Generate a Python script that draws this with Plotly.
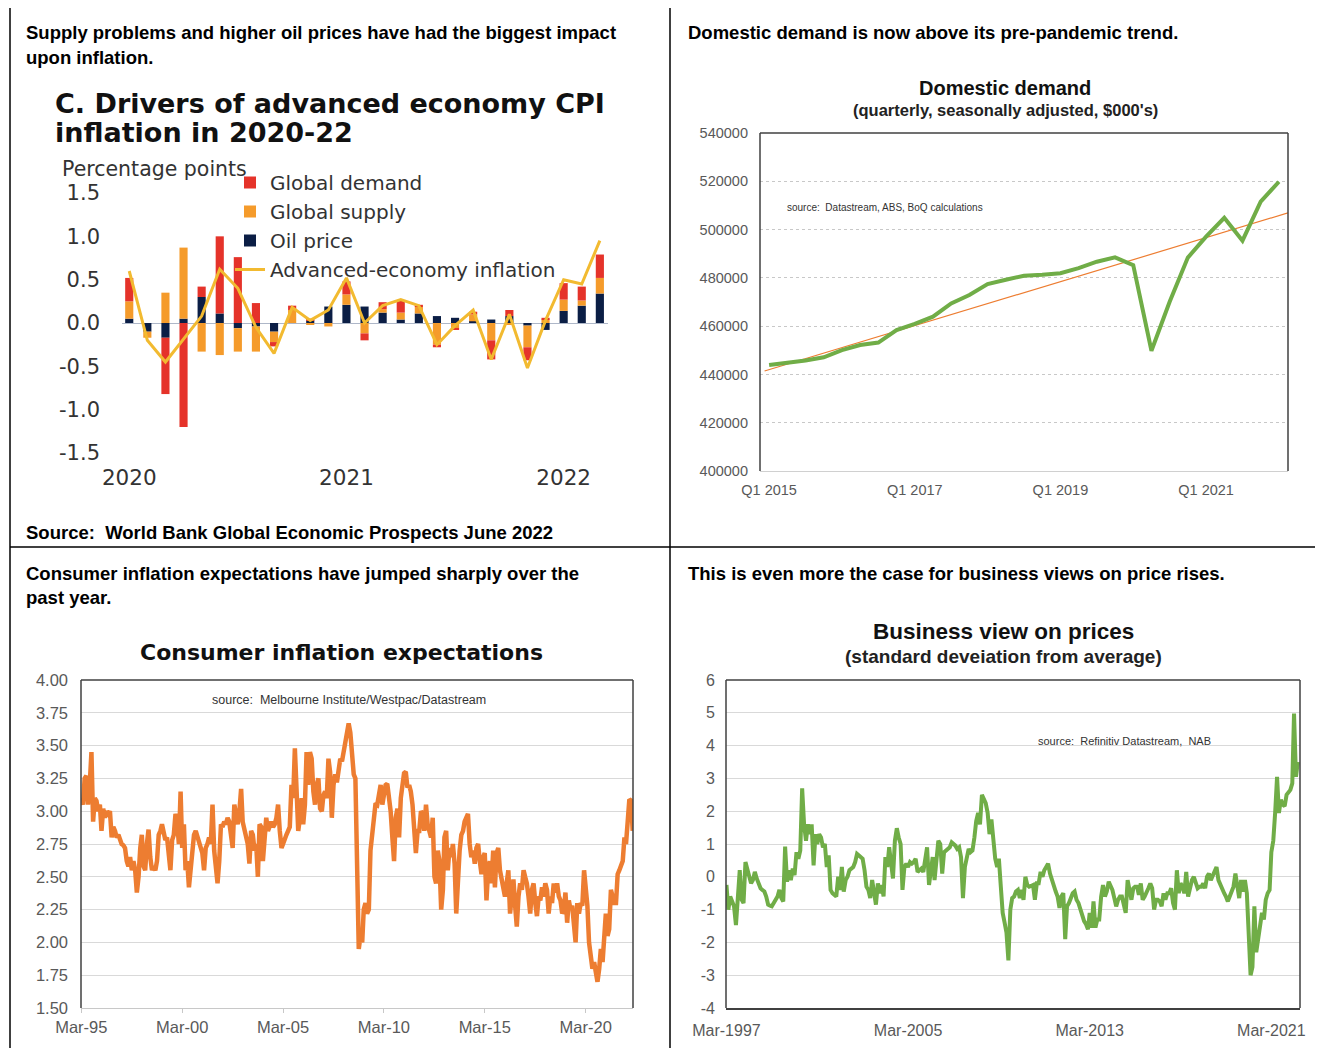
import plotly.graph_objects as go
import pandas as pd

W, H = 1323, 1048
OFF = 8  # page body margin offset


def px(x):
    return (x - OFF) / W


def py(y):
    return 1 - (y - OFF) / H


# ---------------- Panel 1: drivers of advanced economy CPI inflation ----------------
p1_months = pd.date_range("2020-01-01", "2022-03-01", freq="MS")
p1_oil = [0.05, -0.10, -0.17, 0.05, 0.30, 0.11, -0.06, -0.04, -0.10, 0.00, 0.03, 0.19,
          0.21, 0.19, 0.12, 0.04, 0.11, 0.08, 0.06, 0.02, 0.04, 0.08, -0.03, -0.08,
          0.14, 0.20, 0.34]
p1_supply = [0.20, -0.07, 0.35, 0.82, -0.33, -0.37, -0.27, -0.29, -0.12, 0.15, -0.02, -0.04,
             0.12, -0.12, 0.04, 0.08, 0.08, -0.25, -0.06, 0.08, -0.20, -0.02, -0.25, 0.04,
             0.13, 0.06, 0.18]
p1_demand = [0.27, 0.00, -0.65, -1.20, 0.12, 0.89, 0.76, 0.23, -0.05, 0.05, 0.02, 0.00,
             0.15, -0.08, 0.08, 0.14, 0.02, -0.03, -0.02, 0.03, -0.22, 0.07, -0.15, 0.02,
             0.19, 0.16, 0.27]
p1_inflation = [0.60, -0.20, -0.45, -0.18, 0.08, 0.62, 0.40, -0.05, -0.35, 0.18, 0.03, 0.15,
                0.52, 0.00, 0.20, 0.27, 0.20, -0.25, -0.03, 0.15, -0.42, 0.10, -0.52, 0.03,
                0.50, 0.45, 0.95]
p1_year_ticks = ["2020", "2021", "2022"]
p1_ytick_vals = [-1.5, -1.0, -0.5, 0.0, 0.5, 1.0, 1.5]
p1_ytick_text = ["-1.5", "-1.0", "-0.5", "0.0", "0.5", "1.0", "1.5"]

# ---------------- Panel 2: domestic demand ----------------
p2_quarters = [f"Q{q} {y}" for y in range(2015, 2023) for q in range(1, 5)][:29]
p2_demand = [443900, 444700, 445800, 447100, 450100, 452200, 453200, 458400, 460900,
             463900, 469400, 472900, 477400, 479200, 480900, 481300, 481900, 484000,
             486700, 488500, 485300, 449800, 470100, 488400, 497100, 504900, 495400,
             511600, 519800]
p2_trend_x = [-0.25, 28.5]
p2_trend_y = [441400, 506900]
p2_tick_quarters = ["Q1 2015", "Q1 2017", "Q1 2019", "Q1 2021"]

# ---------------- Panel 3: consumer inflation expectations ----------------
p3_values = [
    3.10, 3.05, 3.25, 3.27, 3.05, 3.20, 3.45, 2.92, 3.10, 3.08, 3.00, 3.05,
    2.85, 3.02, 2.95, 3.00, 2.98, 3.00, 2.80, 2.88, 2.85, 2.80, 2.82, 2.78,
    2.75, 2.74, 2.72, 2.62, 2.58, 2.65, 2.55, 2.62, 2.55, 2.38, 2.50, 2.72,
    2.82, 2.58, 2.55, 2.75, 2.86, 2.65, 2.55, 2.58, 2.55, 2.62, 2.82, 2.85,
    2.90, 2.84, 2.78, 2.80, 2.62, 2.55, 2.78, 2.82, 2.98, 2.92, 2.75, 3.15,
    2.72, 2.90, 2.55, 2.62, 2.42, 2.55, 2.75, 2.82, 2.85, 2.80, 2.78, 2.70,
    2.68, 2.55, 2.72, 2.75, 2.80, 2.75, 3.05, 2.70, 2.58, 2.45, 2.62, 2.90,
    2.88, 2.92, 2.90, 2.95, 2.92, 2.80, 2.72, 3.05, 2.95, 2.90, 3.00, 3.17,
    2.92, 2.85, 2.80, 2.75, 2.60, 2.85, 2.82, 2.70, 2.75, 2.50, 2.90, 2.88,
    2.62, 2.85, 2.95, 2.85, 2.90, 2.92, 2.88, 2.90, 2.95, 3.05, 2.85, 2.72,
    2.75, 2.80, 2.82, 2.85, 2.88, 3.20, 3.10, 3.48, 3.15, 2.85, 2.95, 3.10,
    2.90, 3.05, 3.45, 3.20, 3.45, 3.40, 3.15, 3.05, 3.20, 3.25, 3.02, 3.00,
    3.12, 3.15, 3.10, 3.40, 3.30, 2.95, 3.20, 3.28, 3.22, 3.30, 3.40, 3.38,
    3.45, 3.55, 3.62, 3.67, 3.60, 3.45, 3.28, 3.25, 2.60, 1.95, 2.05, 2.00,
    2.25, 2.30, 2.22, 2.25, 2.70, 2.80, 2.95, 3.06, 3.05, 3.15, 3.20, 3.05,
    3.12, 3.20, 3.21, 3.10, 3.00, 2.80, 2.62, 2.95, 3.02, 2.80, 3.10, 3.20,
    3.29, 3.30, 3.18, 3.20, 3.15, 3.05, 2.80, 2.68, 2.85, 2.85, 3.00, 2.98,
    2.85, 3.05, 2.90, 2.85, 2.80, 2.95, 2.50, 2.45, 2.70, 2.62, 2.25, 2.40,
    2.80, 2.85, 2.55, 2.72, 2.65, 2.75, 2.60, 2.22, 2.55, 2.70, 2.82, 2.85,
    2.92, 2.95, 2.98, 2.75, 2.65, 2.70, 2.60, 2.72, 2.75, 2.62, 2.52, 2.65,
    2.68, 2.32, 2.55, 2.62, 2.45, 2.70, 2.42, 2.68, 2.72, 2.55, 2.48, 2.42,
    2.35, 2.45, 2.55, 2.22, 2.40, 2.48, 2.28, 2.12, 2.35, 2.45, 2.40, 2.55,
    2.50, 2.45, 2.35, 2.22, 2.40, 2.45, 2.30, 2.20, 2.35, 2.32, 2.42, 2.35,
    2.45, 2.40, 2.22, 2.35, 2.30, 2.45, 2.38, 2.45, 2.35, 2.32, 2.22, 2.25,
    2.38, 2.15, 2.32, 2.25, 2.28, 2.10, 2.00, 2.30, 2.22, 2.30, 2.28, 2.55,
    2.45, 2.28, 2.00, 1.92, 1.80, 1.85, 1.75, 1.70, 1.80, 1.95, 1.85, 2.00,
    2.22, 2.05, 2.10, 2.40, 2.35, 2.30, 2.30, 2.52, 2.55, 2.60, 2.62, 2.80,
    2.75, 2.92, 3.09, 3.08, 2.85,
]
p3_dates = pd.date_range("1995-03-01", periods=len(p3_values), freq="MS")
p3_tick_dates = ["1995-03-01", "2000-03-01", "2005-03-01", "2010-03-01", "2015-03-01", "2020-03-01"]

# ---------------- Panel 4: business view on prices ----------------
p4_values = [
    -0.25, -1.0, -0.6, -0.75, -0.9, -1.47, -0.7, 0.2, -0.7, -0.8, 0.45, 0.2,
    0.1, -0.2, -0.1, 0.15, -0.05, -0.2, -0.35, -0.4, -0.45, -0.6, -0.85, -0.88,
    -0.9, -0.8, -0.7, -0.6, -0.4, -0.65, -0.75, 0.92, -0.15, 0.2, -0.1, 0.25,
    0.05, 0.75, 0.55, 0.8, 2.7, 1.6, 1.1, 1.6, 1.3, 1.6, 0.35, 1.3,
    1.0, 1.3, 1.2, 0.9, 1.0, 0.3, 0.65, -0.4, -0.5, -0.55, -0.6, 0.0,
    -0.4, 0.3, -0.45, -0.1, 0.0, 0.2, 0.25, 0.3, 0.45, 0.7, 0.65, 0.6,
    0.55, 0.2, -0.3, -0.4, -0.65, -0.1, -0.5, -0.85, -0.2, -0.5, -0.25, -0.6,
    0.6, 0.3, 0.9, 0.5, -0.05, 1.1, 1.48, 1.2, 1.0, -0.4, 0.3, 0.4,
    0.3, 0.45, 0.4, 0.45, 0.55, 0.15, 0.2, 0.25, 0.15, 0.5, 0.9, -0.25,
    0.3, 0.6, -0.1, 0.6, 1.1, 1.0, 0.1, 0.75, 0.8, 0.85, 0.9, 1.05,
    1.0, 0.95, 0.85, 0.9, 0.6, -0.65, 0.3, 0.55, 0.85, 0.75, 0.8, 1.2,
    1.7, 1.95, 1.6, 2.5, 2.4, 2.25, 1.95, 1.3, 1.75, 1.2, 0.55, 0.3,
    0.55, -0.3, -1.1, -1.4, -1.7, -2.55, -1.0, -0.65, -0.6, -0.45, -0.4, -0.65,
    -0.4, -0.7, 0.0, -0.25, -0.3, -0.28, -0.25, -0.7, -0.2, -0.2, 0.15, 0.0,
    0.2, 0.3, 0.4, 0.1, -0.1, -0.25, -0.45, -0.6, -0.95, -0.6, -0.5, -1.9,
    -0.9, -0.8, -0.6, -0.5, -0.45, -0.7, -0.8, -1.0, -1.1, -1.35, -1.45, -1.6,
    -1.1, -1.55, -0.75, -1.55, -1.3, -1.3, -0.6, -0.25, -0.6, -0.45, -0.15, -0.3,
    -0.4, -0.65, -0.9, -0.7, -0.6, -0.6, -0.8, -1.1, -0.1, -0.5, -0.7, -0.35,
    -0.3, -0.3, -0.55, -0.2, -0.7, -0.6, -0.5, -0.35, -0.2, -0.35, -1.0, -0.7,
    -0.7, -0.75, -0.9, -0.5, -0.7, -0.5, -0.5, -0.35, -0.8, -1.0, 0.2, -0.5,
    -0.2, -0.3, -0.5, 0.15, -0.6, -0.3, -0.1, 0.0, -0.2, -0.35, -0.3, -0.3,
    -0.2, -0.35, 0.0, 0.1, -0.1, 0.05, 0.2, 0.3, -0.1, -0.25, -0.4, -0.5,
    -0.6, -0.75, -0.6, -0.45, -0.3, 0.1, -0.4, -0.65, -0.1, -0.45, -0.1, -0.5,
    -1.7, -3.0, -2.75, -0.9, -2.3, -1.95, -1.5, -1.1, -1.3, -0.7, -0.5, -0.4,
    0.75, 1.1, 1.95, 3.05, 1.95, 2.35, 2.2, 2.15, 2.5, 2.6, 2.65, 2.85,
    4.98, 3.05, 3.5,
]
p4_dates = pd.date_range("1997-03-01", periods=len(p4_values), freq="MS")
p4_tick_dates = ["1997-03-01", "2005-03-01", "2013-03-01", "2021-03-01"]
p4_ytick_vals = [-4, -3, -2, -1, 0, 1, 2, 3, 4, 5, 6]
p4_ytick_text = ["-4", "-3", "-2", "-1", "0", "1", "2", "3", "4", "5", "6"]

# ---------------- Styles ----------------
ARIAL = "Liberation Sans, Arial, sans-serif"
WIDE = "DejaVu Sans, Verdana, sans-serif"
TICK_GREY = "#595959"

fig = go.Figure()

p1_x = list(range(len(p1_months)))
fig.add_trace(go.Bar(x=p1_x, y=p1_oil, name="Oil price", marker_color="#0B1E45",
                     marker_line_width=0, legendrank=3, xaxis="x", yaxis="y"))
fig.add_trace(go.Bar(x=p1_x, y=p1_supply, name="Global supply", marker_color="#F59B2B",
                     marker_line_width=0, legendrank=2, xaxis="x", yaxis="y"))
fig.add_trace(go.Bar(x=p1_x, y=p1_demand, name="Global demand", marker_color="#E5332A",
                     marker_line_width=0, legendrank=1, xaxis="x", yaxis="y"))
fig.add_trace(go.Scatter(x=p1_x, y=p1_inflation, name="Advanced-economy inflation",
                         mode="lines", line=dict(color="#F2BA30", width=3),
                         legendrank=4, xaxis="x", yaxis="y"))

p2_x = list(range(len(p2_demand)))
fig.add_trace(go.Scatter(x=p2_trend_x, y=p2_trend_y, mode="lines",
                         line=dict(color="#ED7D31", width=1.2), showlegend=False,
                         xaxis="x2", yaxis="y2"))
fig.add_trace(go.Scatter(x=p2_x, y=p2_demand, mode="lines",
                         line=dict(color="#70AD47", width=4), showlegend=False,
                         xaxis="x2", yaxis="y2"))

fig.add_trace(go.Scatter(x=p3_dates, y=p3_values, mode="lines",
                         line=dict(color="#ED7D31", width=4.5), showlegend=False,
                         xaxis="x3", yaxis="y3"))

fig.add_trace(go.Scatter(x=p4_dates, y=p4_values, mode="lines",
                         line=dict(color="#70AD47", width=4), showlegend=False,
                         xaxis="x4", yaxis="y4"))

# ---------------- Axes ----------------
layout = dict(
    width=W, height=H,
    margin=dict(l=0, r=0, t=0, b=0, pad=0, autoexpand=False),
    paper_bgcolor="white", plot_bgcolor="rgba(0,0,0,0)",
    barmode="relative", bargap=0.55,
    showlegend=True,
    legend=dict(x=px(230), y=py(163), xanchor="left", yanchor="top",
                bgcolor="rgba(0,0,0,0)", font=dict(family=WIDE, size=20, color="#333333"),
                itemwidth=30, tracegroupgap=0),
)

layout["xaxis"] = dict(domain=[px(122), px(608)], anchor="y", range=[-0.4, 26.45],
                       tickmode="array", tickvals=[0, 12, 24], ticktext=p1_year_ticks,
                       showgrid=False, zeroline=False, showline=False, ticks="",
                       ticklabelstandoff=9, automargin=False,
                       tickfont=dict(family=WIDE, size=21.5, color="#333333"))
layout["yaxis"] = dict(domain=[py(453), py(193)], anchor="x", range=[-1.5, 1.5],
                       tickmode="array", tickvals=p1_ytick_vals, ticktext=p1_ytick_text,
                       showgrid=False, zeroline=True, zerolinecolor="#AEB7C8", zerolinewidth=1.2,
                       showline=False, ticks="", ticklabelstandoff=21, automargin=False,
                       tickfont=dict(family=WIDE, size=21, color="#333333"))

layout["xaxis2"] = dict(domain=[px(760), px(1288)], anchor="y2", range=[-0.5, 28.5],
                        tickmode="array", tickvals=[p2_quarters.index(q) for q in p2_tick_quarters],
                        ticktext=p2_tick_quarters, showgrid=False, zeroline=False,
                        showline=True, linecolor="#D0D0D0", linewidth=1, ticks="",
                        ticklabelstandoff=6, automargin=False,
                        tickfont=dict(family=ARIAL, size=14.5, color=TICK_GREY))
layout["yaxis2"] = dict(domain=[py(471), py(133)], anchor="x2", range=[400000, 540000],
                        dtick=20000, tickformat="d", showgrid=True, gridcolor="#C8C8C8",
                        griddash="dot", gridwidth=1, zeroline=False, showline=False, ticks="",
                        ticklabelstandoff=11, automargin=False,
                        tickfont=dict(family=ARIAL, size=14.5, color=TICK_GREY))

layout["xaxis3"] = dict(domain=[px(81), px(633)], anchor="y3",
                        range=["1995-02-24", "2022-07-06"], type="date",
                        tickmode="array", tickvals=p3_tick_dates, tickformat="%b-%y",
                        showgrid=False, zeroline=False, showline=True, linecolor="#C8C8C8",
                        linewidth=1, ticks="outside", ticklen=4, tickcolor="#C8C8C8",
                        ticklabelstandoff=0, automargin=False,
                        tickfont=dict(family=ARIAL, size=16.5, color=TICK_GREY))
layout["yaxis3"] = dict(domain=[py(1008), py(680)], anchor="x3", range=[1.5, 4.0],
                        dtick=0.25, tickformat=".2f", showgrid=True, gridcolor="#D9D9D9",
                        gridwidth=1, zeroline=False, showline=False, ticks="",
                        ticklabelstandoff=12, automargin=False,
                        tickfont=dict(family=ARIAL, size=16.5, color=TICK_GREY))

layout["xaxis4"] = dict(domain=[px(726), px(1300)], anchor="y4",
                        range=["1997-02-22", "2022-06-05"], type="date",
                        tickmode="array", tickvals=p4_tick_dates, tickformat="%b-%Y",
                        showgrid=False, zeroline=False, showline=True, linecolor="#404040",
                        linewidth=1.5, ticks="", ticklabelstandoff=7, automargin=False,
                        tickfont=dict(family=ARIAL, size=16, color=TICK_GREY))
layout["yaxis4"] = dict(domain=[py(1008), py(680)], anchor="x4", range=[-4, 6],
                        tickmode="array", tickvals=p4_ytick_vals, ticktext=p4_ytick_text,
                        showgrid=True, gridcolor="#D9D9D9", gridwidth=1, zeroline=False,
                        showline=False, ticks="", ticklabelstandoff=10, automargin=False,
                        tickfont=dict(family=ARIAL, size=16, color=TICK_GREY))

fig.update_layout(**layout)

# ---------------- Frames / borders ----------------
shapes = []
BL = dict(color="black", width=1.5)
shapes.append(dict(type="line", xref="paper", yref="paper", x0=px(10), x1=1, y0=py(7), y1=py(7), line=BL))
shapes.append(dict(type="line", xref="paper", yref="paper", x0=px(10), x1=px(10), y0=0, y1=py(7), line=BL))
shapes.append(dict(type="line", xref="paper", yref="paper", x0=px(670), x1=px(670), y0=0, y1=py(7), line=BL))
shapes.append(dict(type="line", xref="paper", yref="paper", x0=px(10), x1=1, y0=py(547), y1=py(547), line=BL))

FR = dict(color="#404040", width=1.5)
for ax in ["2", "3", "4"]:
    xr, yr = f"x{ax} domain", f"y{ax} domain"
    shapes.append(dict(type="line", xref=xr, yref=yr, x0=0, x1=0, y0=0, y1=1, line=FR))
    shapes.append(dict(type="line", xref=xr, yref=yr, x0=0, x1=1, y0=1, y1=1, line=FR))
    shapes.append(dict(type="line", xref=xr, yref=yr, x0=1, x1=1, y0=0, y1=1, line=FR))
fig.update_layout(shapes=shapes)

# ---------------- Text ----------------
ann = []


def text(x, y, s, size, family=ARIAL, color="black", xanchor="left", bold=False):
    ann.append(dict(x=px(x), y=py(y), xref="paper", yref="paper", text=(f"<b>{s}</b>" if bold else s),
                    showarrow=False, xanchor=xanchor, yanchor="middle",
                    font=dict(family=family, size=size, color=color)))


HS = 18.5
text(24, 33, "Supply problems and higher oil prices have had the biggest impact", HS, bold=True)
text(24, 57, "upon inflation.", HS, bold=True)
text(24, 532, "Source:  World Bank Global Economic Prospects June 2022", HS, bold=True)
text(686, 33, "Domestic demand is now above its pre-pandemic trend.", HS, bold=True)
text(24, 573, "Consumer inflation expectations have jumped sharply over the", HS, bold=True)
text(24, 597, "past year.", HS, bold=True)
text(686, 573, "This is even more the case for business views on price rises.", HS, bold=True)

text(53, 103, "C. Drivers of advanced economy CPI", 27, family=WIDE, color="#111111", bold=True)
text(53, 132, "inflation in 2020-22", 27, family=WIDE, color="#111111", bold=True)
text(60, 169, "Percentage points", 20.5, family=WIDE, color="#333333")

text(1005, 88, "Domestic demand", 20, color="#111111", xanchor="center", bold=True)
text(1005, 110, "(quarterly, seasonally adjusted, $000's)", 16.5, color="#222222", xanchor="center", bold=True)
text(785, 208, "source:  Datastream, ABS, BoQ calculations", 10, color="#333333")

text(341, 652, "Consumer inflation expectations", 22, family=WIDE, color="#111111", xanchor="center", bold=True)
text(210, 700, "source:  Melbourne Institute/Westpac/Datastream", 12.5, color="#333333")

text(1003, 631, "Business view on prices", 22.5, color="#111111", xanchor="center", bold=True)
text(1003, 656, "(standard deveiation from average)", 19, color="#222222", xanchor="center", bold=True)
text(1036, 741, "source:  Refinitiv Datastream,  NAB", 11, color="#333333")

fig.update_layout(annotations=ann)

fig.write_html("out.html")
